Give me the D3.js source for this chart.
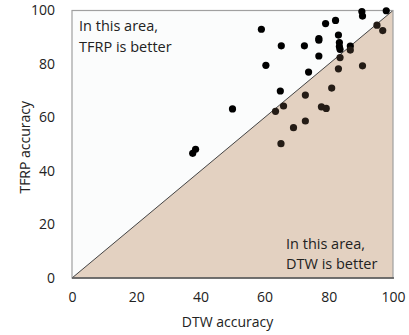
<!DOCTYPE html>
<html>
<head>
<meta charset="utf-8">
<script src="https://cdn.jsdelivr.net/npm/d3@7"></script>
<style>
  body { margin: 0; background: #fff; }
  text { font-family: "Open Sans", sans-serif; fill: #222; }
</style>
</head>
<body>
<div id="chart"></div>
<script>
// DTW accuracy (x) vs TFRP accuracy (y)
const dtw = [37.6, 38.5, 50.0, 59.0, 60.4, 65.2, 64.9, 63.4, 65.9, 65.1, 69.0, 72.4, 72.7, 72.7, 73.7,
  76.9, 76.9, 76.9, 79.0, 82.1, 77.7, 79.2, 80.9, 83.0, 83.3, 83.3, 83.5, 83.5, 83.0, 86.7, 86.7,
  90.5, 90.3, 90.5, 97.9, 95.0, 96.8];
const tfrp = [46.6, 48.1, 63.2, 93.0, 79.5, 86.8, 69.9, 62.3, 64.3, 50.2, 56.2, 86.8, 68.4, 58.7, 77.0,
  89.5, 88.9, 83.0, 95.1, 96.3, 64.0, 63.4, 71.0, 90.8, 88.0, 86.5, 85.5, 82.4, 78.2, 86.7, 85.2,
  79.3, 99.6, 97.9, 99.9, 94.5, 92.5];
const xTicks = [0, 20, 40, 60, 80, 100];
const yTicks = [0, 20, 40, 60, 80, 100];

const width = 409, height = 335;
const margin = { left: 72, right: 16, top: 10.5, bottom: 57 };

const svg = d3.select("#chart").append("svg")
  .attr("width", width)
  .attr("height", height);

const x = d3.scaleLinear().domain([0, 100]).range([margin.left, width - margin.right]);
const y = d3.scaleLinear().domain([0, 100]).range([height - margin.bottom, margin.top]);

// upper area background
svg.append("rect")
  .attr("x", x(0)).attr("y", y(100))
  .attr("width", x(100) - x(0)).attr("height", y(0) - y(100))
  .attr("fill", "#fbfcfc");

// lower triangle (DTW better)
svg.append("path")
  .attr("d", d3.line()([[x(0), y(0)], [x(100), y(100)], [x(100), y(0)]]) + "Z")
  .attr("fill", "#e3d1c1");

// diagonal
svg.append("line")
  .attr("x1", x(0)).attr("y1", y(0))
  .attr("x2", x(100)).attr("y2", y(100))
  .attr("stroke", "#444").attr("stroke-width", 1);

// frame
svg.append("rect")
  .attr("x", x(0)).attr("y", y(100))
  .attr("width", x(100) - x(0)).attr("height", y(0) - y(100))
  .attr("fill", "none").attr("stroke", "#a0a0a0").attr("stroke-width", 1.2);
svg.append("line")
  .attr("x1", x(0)).attr("x2", x(100) + 1)
  .attr("y1", y(0)).attr("y2", y(0))
  .attr("stroke", "#555").attr("stroke-width", 1.5);

// points
svg.selectAll("circle")
  .data(dtw.map((d, i) => [d, tfrp[i]]))
  .enter().append("circle")
  .attr("cx", d => x(d[0]))
  .attr("cy", d => y(d[1]))
  .attr("r", 3.6)
  .attr("fill", d => d[1] < d[0] ? "#241c16" : "#000");

// axes (labels only)
const xAxis = svg.append("g")
  .attr("transform", `translate(0,${y(0)})`)
  .call(d3.axisBottom(x).tickValues(xTicks).tickSize(0).tickPadding(14));
const yAxis = svg.append("g")
  .attr("transform", `translate(${x(0)},0)`)
  .call(d3.axisLeft(y).tickValues(yTicks).tickSize(0).tickPadding(17));
[xAxis, yAxis].forEach(g => {
  g.select(".domain").remove();
  g.selectAll("text").attr("font-size", 14).attr("font-family", "'Open Sans', sans-serif").attr("fill", "#222");
});

// titles
svg.append("text")
  .attr("x", (x(0) + x(100)) / 2 - 5).attr("y", 327)
  .attr("text-anchor", "middle").attr("font-size", 14)
  .text("DTW accuracy");
svg.append("text")
  .attr("transform", `translate(30,${(y(0) + y(100)) / 2 + 3}) rotate(-90)`)
  .attr("text-anchor", "middle").attr("font-size", 14)
  .text("TFRP accuracy");

// annotations
const note1 = svg.append("text").attr("font-size", 14.5);
note1.append("tspan").attr("x", 79).attr("y", 31).text("In this area,");
note1.append("tspan").attr("x", 79).attr("y", 52).text("TFRP is better");
const note2 = svg.append("text").attr("font-size", 14.5);
note2.append("tspan").attr("x", 286).attr("y", 249).text("In this area,");
note2.append("tspan").attr("x", 286).attr("y", 269).text("DTW is better");
</script>
</body>
</html>
